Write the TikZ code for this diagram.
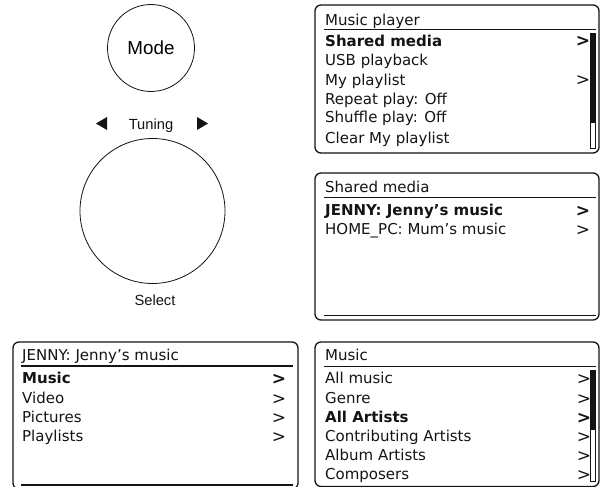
\documentclass[tikz,border=0pt]{standalone}
\usepackage{fontspec}
\setmainfont{DejaVu Sans}
\newfontfamily\knobfont{Liberation Sans}
\usetikzlibrary{positioning}
\definecolor{lcdink}{RGB}{20,20,20}
\definecolor{lcdpaper}{RGB}{255,255,255}

\begin{document}
\begin{tikzpicture}[x=1pt, y=-1pt,
  screen/.style={draw=lcdink, line width=1.3pt, rounded corners=6pt},
  rule/.style={draw=lcdink, line width=1.2pt},
  title/.style={anchor=base west, inner sep=0pt, text=lcdink, font=\fontsize{15}{18}\selectfont},
  item/.style={anchor=base west, inner sep=0pt, text=lcdink, font=\fontsize{15}{18}\selectfont},
  pick/.style={item, font=\fontsize{15}{18}\selectfont\bfseries},
  more/.style={anchor=base, inner sep=0pt, text=lcdink, font=\fontsize{17}{18}\selectfont},
  morepick/.style={more, font=\fontsize{17}{18}\selectfont\bfseries},
  knob/.style={draw=lcdink, circle, line width=0.8pt, inner sep=0pt},
  knoblabel/.style={inner sep=0pt, text=lcdink, font=\knobfont\fontsize{14.7}{17}\selectfont}]
  \useasboundingbox[fill=lcdpaper] (0,0) rectangle (603,487);

  % front panel controls
  \node[knob, minimum size=87pt, font=\knobfont\fontsize{18.8}{22}\selectfont] (mode) at (151,48) {Mode};
  \node[knoblabel, anchor=base] (tuning) at (151,129) {Tuning};
  \fill[lcdink] (96,123.5) -- (107,117) -- (107,130) -- cycle;
  \fill[lcdink] (208,123.5) -- (197,117) -- (197,130) -- cycle;
  \node[knob, minimum size=145pt] (dial) at (152.5,211) {};
  \node[knoblabel, anchor=base] (select) at (155,305) {Select};

  % Music player screen
  \draw[screen] (315,5) rectangle (599,153);
  \node[title] (mp) at (325,26) {Music player};
  \draw[rule] (324,29.5) -- (596,29.5);
  \node[pick] (mp1) at (325,47) {Shared media};
  \node[item] (mp2) at (325,66) {USB playback};
  \node[item] (mp3) at (325,85) {My playlist};
  \node[item] (mp4) at (325,104) {Repeat play: Off};
  \node[item] (mp5) at (325,123) {Shuffle play: Off};
  \node[item] (mp6) at (325,143) {Clear My playlist};
  \node[morepick] (mp1x) at (583,47) {>};
  \node[more] (mp3x) at (583,86) {>};
  \draw[lcdink, line width=0.7pt] (590.5,33.5) rectangle (595,148);
  \fill[lcdink] (590.5,33.5) rectangle (595,123);

  % Shared media screen
  \draw[screen] (315,173) rectangle (599,320);
  \node[title] (sm) at (325,192) {Shared media};
  \draw[rule] (324,197.5) -- (596,197.5);
  \node[pick] (sm1) at (325,215) {JENNY: Jenny’s music};
  \node[item] (sm2) at (325,234) {HOME\_PC: Mum’s music};
  \node[morepick] (sm1x) at (583,216) {>};
  \node[more] (sm2x) at (583,235) {>};
  \draw[rule, line width=1.6pt] (324,315.5) -- (596,315.5);

  % JENNY screen
  \draw[screen] (13,342) rectangle (298,489);
  \node[title] (jm) at (22,360) {JENNY: Jenny’s music};
  \draw[rule] (21,366) -- (293,366);
  \node[pick] (jm1) at (22,383) {Music};
  \node[item] (jm2) at (22,403) {Video};
  \node[item] (jm3) at (22,422) {Pictures};
  \node[item] (jm4) at (22,441) {Playlists};
  \node[morepick] (jm1x) at (279,384) {>};
  \node[more] (jm2x) at (279,404) {>};
  \node[more] (jm3x) at (279,423) {>};
  \node[more] (jm4x) at (279,442) {>};
  \draw[rule, line width=1.6pt] (21,485) -- (293,485);

  % Music screen
  \draw[screen] (315,342) rectangle (599,486.5);
  \node[title] (mu) at (325,360) {Music};
  \draw[rule] (324,366.5) -- (596,366.5);
  \node[item] (mu1) at (325,383) {All music};
  \node[item] (mu2) at (325,403) {Genre};
  \node[pick] (mu3) at (325,422) {All Artists};
  \node[item] (mu4) at (325,441) {Contributing Artists};
  \node[item] (mu5) at (325,460) {Album Artists};
  \node[item] (mu6) at (325,479) {Composers};
  \node[more] (mu1x) at (584,384) {>};
  \node[more] (mu2x) at (584,404) {>};
  \node[morepick] (mu3x) at (584,423) {>};
  \node[more] (mu4x) at (584,442) {>};
  \node[more] (mu5x) at (584,461) {>};
  \node[more] (mu6x) at (584,480) {>};
  \draw[lcdink, line width=0.7pt] (590.5,370.5) rectangle (595,481);
  \fill[lcdink] (590.5,370.5) rectangle (595,430);
\end{tikzpicture}
\end{document}
